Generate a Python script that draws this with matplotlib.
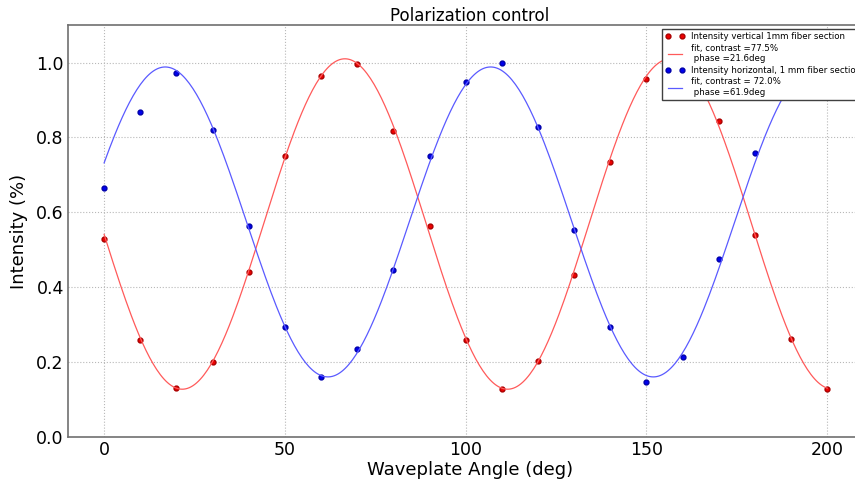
import numpy as np
import matplotlib
matplotlib.use("Agg")
import matplotlib.pyplot as plt

# measured intensities vs waveplate angle
angle = [0, 10, 20, 30, 40, 50, 60, 70, 80, 90, 100, 110, 120, 130, 140, 150, 160, 170, 180, 190, 200]
vertical = [0.53, 0.26, 0.13, 0.20, 0.44, 0.75, 0.963, 0.995, 0.818, 0.564, 0.26, 0.128, 0.203, 0.433,
            0.735, 0.955, 1.0, 0.845, 0.54, 0.262, 0.128]
horizontal = [0.666, 0.869, 0.973, 0.821, 0.564, 0.294, 0.16, 0.235, 0.447, 0.751, 0.949, 1.0, 0.829,
              0.553, 0.294, 0.147, 0.214, 0.476, 0.759, 0.95, 1.0]

# fit parameters (offset, contrast, phase in deg)
fit_vertical = (0.569, 0.775, 21.6)
fit_horizontal = (0.5745, 0.720, 61.9)


def fit_curve(x, params):
    offset, contrast, phase = params
    return offset - offset * contrast * np.cos(np.radians(4 * (x - phase)))


x_fit = np.linspace(0, 200, 400)

fig = plt.figure(figsize=(8.55, 4.82), dpi=100)
# axes runs a little past the right edge of the figure, like the original
ax = fig.add_axes([0.0795, 0.093, 0.94, 0.855])

ax.plot(angle, vertical, 'o', color='#ee0000', markeredgecolor='#aa0000', markersize=3.5,
        label='Intensity vertical 1mm fiber section')
ax.plot(x_fit, fit_curve(x_fit, fit_vertical), '-', color='#ff5a5a', linewidth=0.9,
        label='fit, contrast =77.5%\n phase =21.6deg')
ax.plot(angle, horizontal, 'o', color='#0000ee', markeredgecolor='#0000aa', markersize=3.5,
        label='Intensity horizontal, 1 mm fiber section')
ax.plot(x_fit, fit_curve(x_fit, fit_horizontal), '-', color='#5a5aff', linewidth=0.9,
        label='fit, contrast = 72.0%\n phase =61.9deg')

ax.set_xlim(-10, 212.3)
ax.set_ylim(0, 1.1)
ax.set_xticks([0, 50, 100, 150, 200])
ax.set_yticks([0.0, 0.2, 0.4, 0.6, 0.8, 1.0])
ax.tick_params(labelsize=12.5, length=0, pad=3)
ax.grid(True, linestyle=':', color='#b8b8b8', linewidth=0.8)
for s in ax.spines.values():
    s.set_color('#707070')
    s.set_linewidth(1.2)

ax.set_xlabel("Waveplate Angle (deg)", fontsize=13, labelpad=1)
ax.set_ylabel("Intensity (%)", fontsize=13, labelpad=6)
ax.set_title("Polarization control", fontsize=12, pad=3)

leg = ax.legend(loc='upper left', bbox_to_anchor=(0.7366, 0.995), fontsize=6.2, numpoints=2,
                fancybox=False, framealpha=1, borderaxespad=0.2, handlelength=2.2,
                labelspacing=0.3)
leg.get_frame().set_edgecolor('#404040')

fig.savefig("out.png", dpi=100)
